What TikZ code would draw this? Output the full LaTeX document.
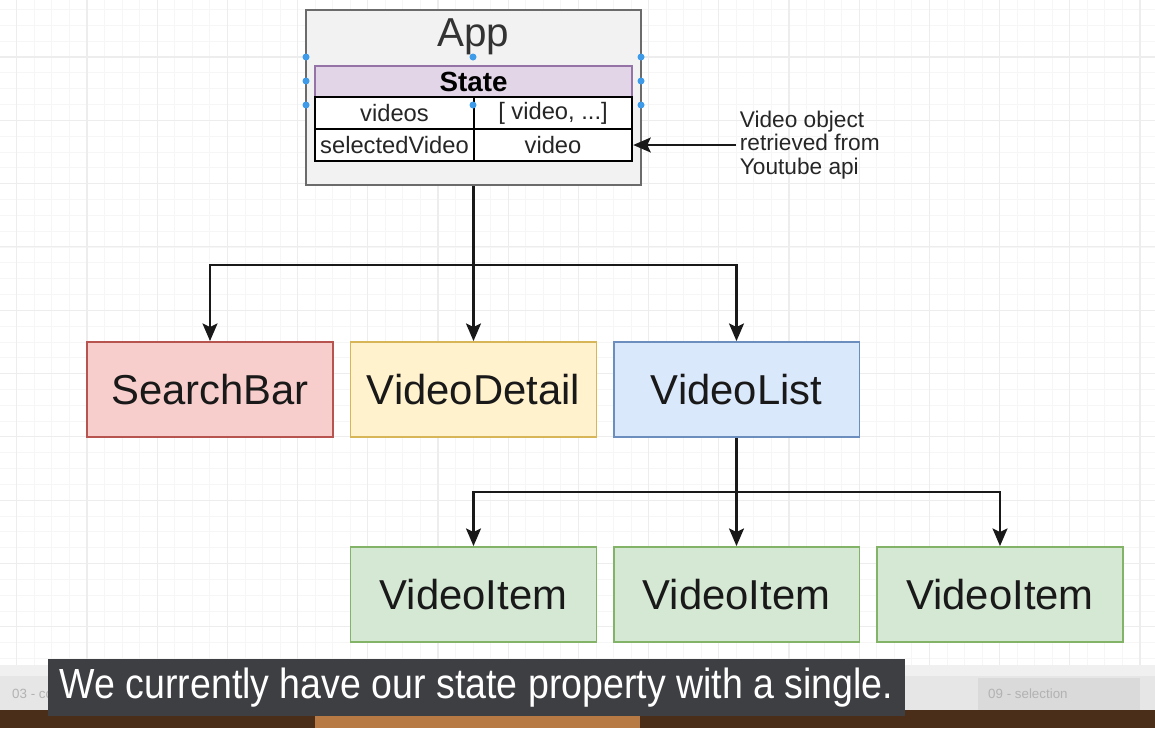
\documentclass[tikz,border=0pt]{standalone}
\usepackage{fontspec}
\setmainfont{Liberation Sans}
\newfontfamily\capfont[FakeStretch=0.89]{Liberation Sans}
\usetikzlibrary{arrows.meta}
\definecolor{redfill}{HTML}{F8CECC}
\definecolor{redline}{HTML}{B85450}
\definecolor{yellowfill}{HTML}{FFF2CC}
\definecolor{yellowline}{HTML}{D6B656}
\definecolor{bluefill}{HTML}{DAE8FC}
\definecolor{blueline}{HTML}{6C8EBF}
\definecolor{greenfill}{HTML}{D5E8D4}
\definecolor{greenline}{HTML}{82B366}
\definecolor{purplefill}{HTML}{E1D5E7}
\definecolor{purpleline}{HTML}{9673A6}
\definecolor{appfill}{HTML}{F2F2F2}
\definecolor{appline}{HTML}{6B6B6B}
\definecolor{handleblue}{HTML}{3D9BE9}
\definecolor{capgray}{HTML}{3E3F43}
\definecolor{tabbar}{HTML}{E6E6E6}
\definecolor{tabsel}{HTML}{DADADA}
\definecolor{desk}{HTML}{4A2E1A}
\definecolor{dock}{HTML}{B77A45}
\begin{document}
\begin{tikzpicture}[x=0.02cm, y=-0.02cm, >={Stealth[length=10pt,width=8.5pt,inset=2pt]},
  box/.style={rectangle, draw, line width=1.1pt, minimum width=4.92cm, minimum height=1.9cm, inner sep=0pt, font=\fontsize{23.8}{28}\selectfont, text=black!90},
  cell/.style={rectangle, draw=black, fill=white, line width=1.1pt, minimum width=3.17cm, minimum height=0.64cm, inner sep=0pt, font=\fontsize{13.5}{16}\selectfont, text=black!85},
  link/.style={line width=1.3pt, black!90},
  gridminor/.style={gray!7, line width=0.5pt},
  gridmajor/.style={gray!14, line width=0.6pt},
  handle/.style={fill=handleblue}]
\useasboundingbox (0,0) rectangle (1155,728);
\fill[white] (0,0) rectangle (1155,665);
\foreach \i in {0,...,65} \draw[gridminor] ({16.8+17.55*\i},0) -- ({16.8+17.55*\i},665);
\foreach \i in {0,...,41} \draw[gridminor] (0,{9.5+15.83*\i}) -- (1155,{9.5+15.83*\i});
\foreach \i in {0,...,16} \draw[gridmajor] ({16.8+70.2*\i},0) -- ({16.8+70.2*\i},665);
\foreach \i in {0,...,9} \draw[gridmajor] (0,{57+63.3*\i}) -- (1155,{57+63.3*\i});

\node[rectangle, draw=appline, fill=appfill, line width=1.2pt, minimum width=6.7cm, minimum height=3.5cm, inner sep=0pt] (app) at (473.5,97.5) {};
\node[text=black!80, font=\fontsize{23}{27}\selectfont] (applabel) at (473.5,37) {App};
\node[rectangle, draw=purpleline, fill=purplefill, line width=0.8pt, minimum width=6.34cm, minimum height=0.62cm, inner sep=0pt, font=\bfseries\fontsize{15.8}{18}\selectfont] (state) at (473.5,81.5) {State};
\node[cell] (videos) at (394.5,113) {videos};
\node[cell] (videoarr) at (553,113) {[ video, ...]};
\node[cell] (selected) at (394.5,145) {selectedVideo};
\node[cell] (selvideo) at (553,145) {video};
\foreach \p in {(306,57),(473,57),(641,57),(306,81),(641,81),(306,105),(473,105),(641,105)}
  \fill[handle] \p circle (3.5);
\node[anchor=west, align=left, inner sep=2pt, text=black!85, font=\fontsize{12.9}{13.3}\selectfont] (note) at (736,145) {Video object\\retrieved from\\Youtube api};

\node[box, draw=redline, fill=redfill] (search) at (210,389.5) {SearchBar};
\node[box, draw=yellowline, fill=yellowfill] (detail) at (473.5,389.5) {VideoDetail};
\node[box, draw=blueline, fill=bluefill] (list) at (736.5,389.5) {VideoList};
\node[box, draw=greenline, fill=greenfill] (item1) at (473.5,594.5) {VideoItem};
\node[box, draw=greenline, fill=greenfill] (item2) at (736.5,594.5) {VideoItem};
\node[box, draw=greenline, fill=greenfill] (item3) at (1000,594.5) {VideoItem};

\coordinate (split1) at (473.5,265);
\coordinate (split2) at (736.5,492);
\draw[link] (app.south) -- (split1);
\draw[link,->] (split1) -| (search.north);
\draw[link,->] (split1) -- (detail.north);
\draw[link,->] (split1) -| (list.north);
\draw[link] (list.south) -- (split2);
\draw[link,->] (split2) -| (item1.north);
\draw[link,->] (split2) -- (item2.north);
\draw[link,->] (split2) -| (item3.north);
\draw[link,->] (note.west) -- (selvideo.east);

\fill[gray!12] (0,665) rectangle (1155,676);
\fill[tabbar] (0,676) rectangle (1155,710);
\fill[tabsel] (978,678) rectangle (1140,710);
\node[anchor=west, text=gray!60, font=\fontsize{7.6}{9}\selectfont] (tab3) at (6,694) {03 - co};
\node[anchor=west, text=gray!60, font=\fontsize{7.6}{9}\selectfont] (tab9) at (982,694) {09 - selection};
\fill[desk] (0,710) rectangle (1155,728);
\fill[dock] (315,712) rectangle (640,728);
\node[rectangle, fill=capgray, text=white, minimum width=17.14cm, minimum height=1.14cm, inner sep=0pt, font=\capfont\fontsize{24}{28}\selectfont] (caption) at (476.5,687.5) {We currently have our state property with a single.};
\end{tikzpicture}
\end{document}
